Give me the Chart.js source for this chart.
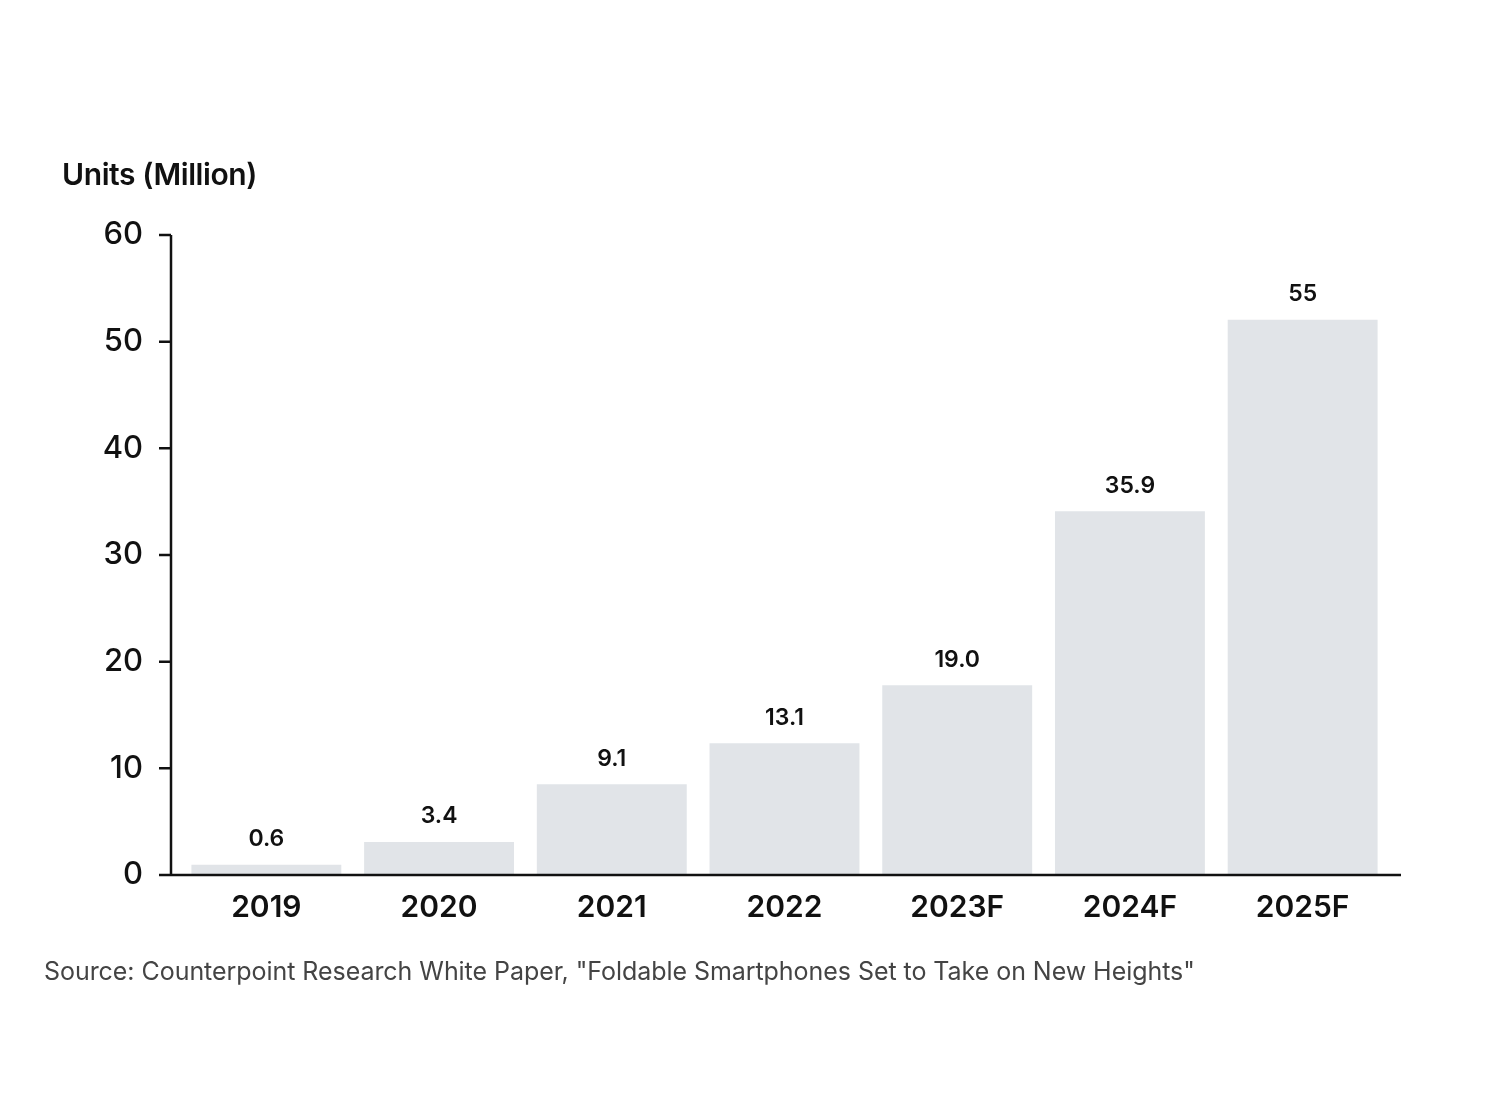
<!DOCTYPE html>
<html>
<head>
<meta charset="utf-8">
<script src="https://cdn.jsdelivr.net/npm/chart.js@4.4.1/dist/chart.umd.min.js"></script>
<style>
  html, body { margin: 0; padding: 0; background: #fff; }
  .wrap { position: relative; width: 1492px; height: 1120px; }
  .titulo { position: absolute; left: 62px; top: 156px; font: 600 30px Inter, sans-serif; color: #111; letter-spacing: -0.4px; }
  .fuente { position: absolute; left: 44px; top: 956px; font: 400 25px Inter, sans-serif; color: #444; letter-spacing: -0.05px; }
</style>
</head>
<body>
<div class="wrap">
  <canvas id="grafico" width="1492" height="1120"></canvas>
  <div class="titulo">Units (Million)</div>
  <div class="fuente">Source: Counterpoint Research White Paper, "Foldable Smartphones Set to Take on New Heights"</div>
</div>
<script>
// datos
const años = ['2019', '2020', '2021', '2022', '2023F', '2024F', '2025F']
const unidades = [0.95, 3.1, 8.5, 12.35, 17.8, 34.1, 52.05]   // altura de las barras
const etiquetas = ['0.6', '3.4', '9.1', '13.1', '19.0', '35.9', '55']   // texto sobre cada barra
const marcasY = [0, 10, 20, 30, 40, 50, 60]

// ejes dibujados a mano (linea vertical separada del area)
const ejes = {
    id: 'ejes',
    afterDraw(chart) {
        const ctx = chart.ctx
        const area = chart.chartArea
        const y = chart.scales.y
        const xEje = area.left - 9
        ctx.save()
        ctx.strokeStyle = '#111'
        ctx.lineWidth = 2.5
        ctx.beginPath()
        ctx.moveTo(xEje, y.getPixelForValue(60))
        ctx.lineTo(xEje, area.bottom)
        ctx.moveTo(area.left - 21, area.bottom)
        ctx.lineTo(area.right + 12, area.bottom)
        for (const m of marcasY) {
            const py = y.getPixelForValue(m)
            ctx.moveTo(xEje - 12, py)
            ctx.lineTo(xEje, py)
        }
        ctx.stroke()
        ctx.restore()
    }
}

const valores = {
    id: 'valores',
    afterDatasetsDraw(chart) {
        const ctx = chart.ctx
        const barras = chart.getDatasetMeta(0).data
        ctx.save()
        ctx.font = '600 23px Inter, sans-serif'
        ctx.fillStyle = '#111'
        ctx.textAlign = 'center'
        ctx.textBaseline = 'bottom'
        barras.forEach((b, i) => {
            ctx.fillText(etiquetas[i], b.x, b.y - 14)
        })
        ctx.restore()
    }
}

const grafico = new Chart(document.getElementById('grafico'), {
    type: 'bar',
    data: {
        labels: años,
        datasets: [{
            data: unidades,
            backgroundColor: '#e1e4e8',
            borderWidth: 0,
            categoryPercentage: 1,
            barPercentage: 0.868
        }]
    },
    options: {
        responsive: false,
        animation: false,
        layout: { padding: { top: 235, left: 0, right: 103, bottom: 187 } },
        plugins: { legend: { display: false }, tooltip: { enabled: false } },
        scales: {
            x: {
                grid: { display: false },
                border: { display: false },
                ticks: { color: '#111', padding: 7, font: { family: 'Inter', size: 30, weight: '600' } }
            },
            y: {
                min: 0,
                max: 60,
                afterFit(s) { s.width = 180 },
                grid: { display: false, drawTicks: false },
                border: { display: false },
                ticks: { stepSize: 10, color: '#111', padding: 37, font: { family: 'Inter', size: 31, weight: '500' } }
            }
        }
    },
    plugins: [ejes, valores]
})
</script>
</body>
</html>
